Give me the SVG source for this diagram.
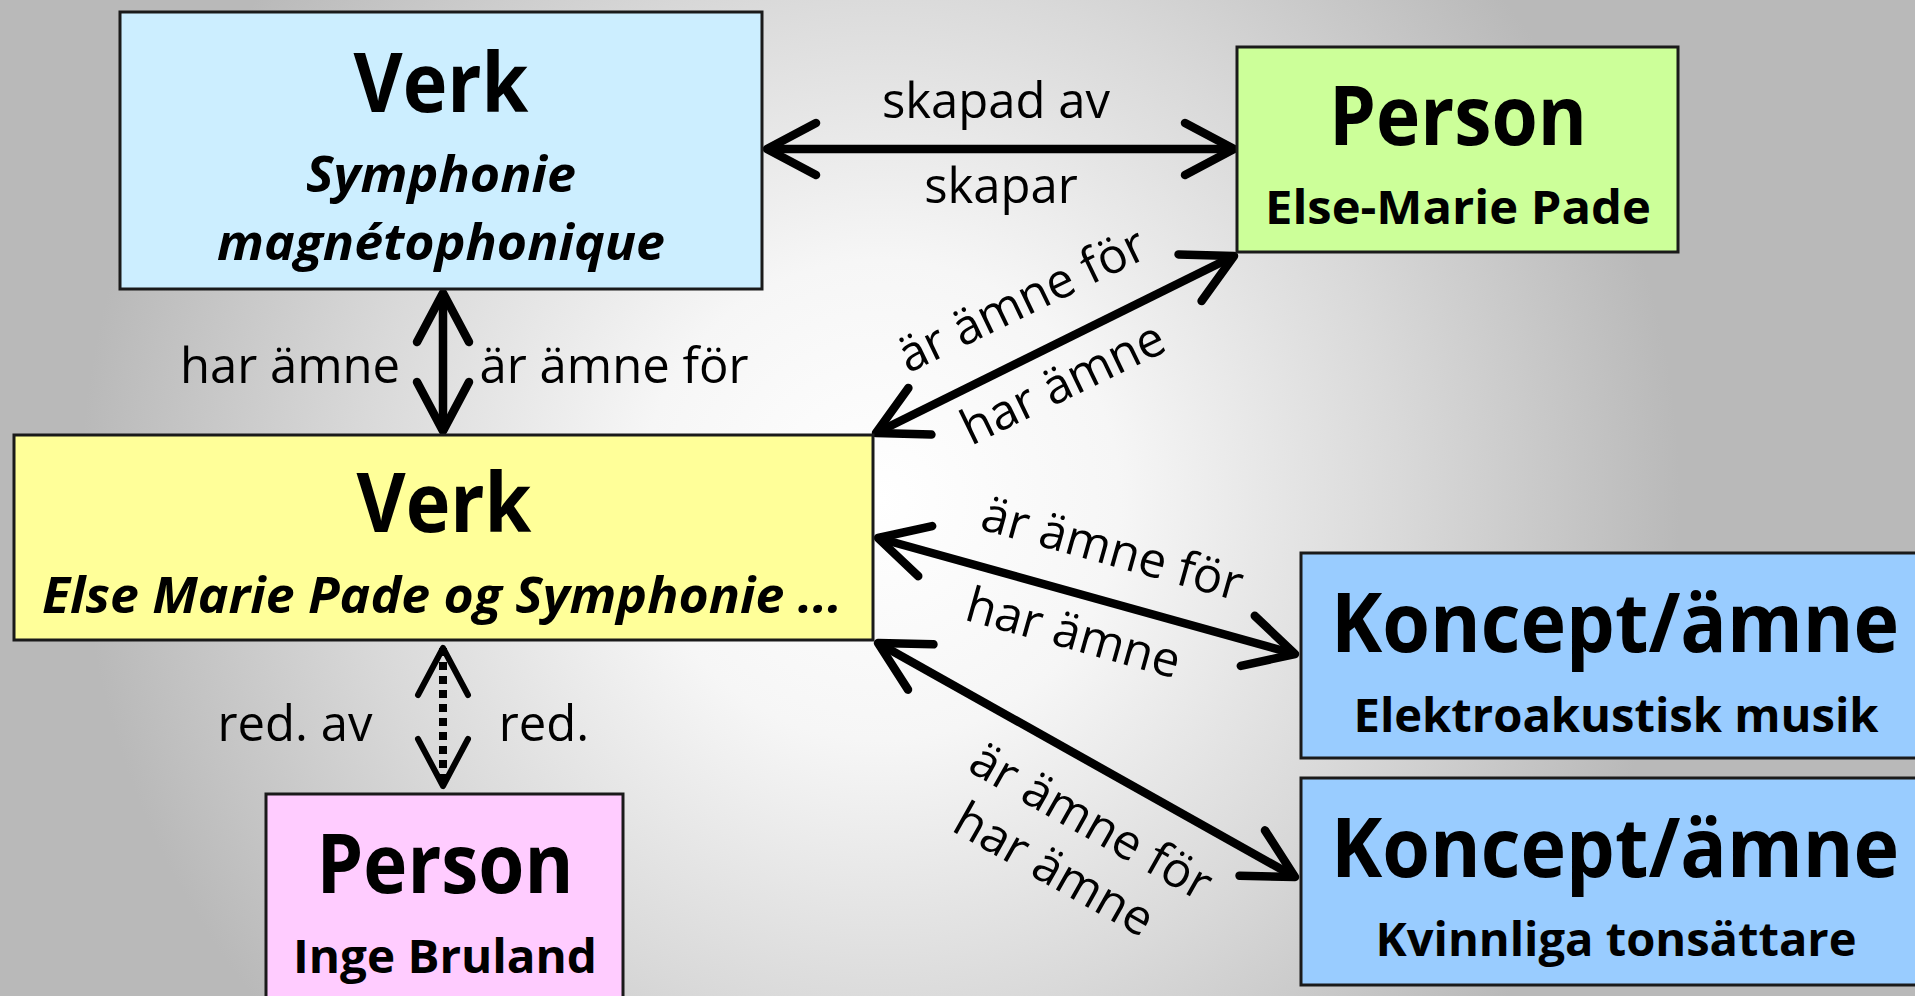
<svg xmlns="http://www.w3.org/2000/svg" width="1915" height="996" viewBox="0 0 1915 996">
<defs>
<radialGradient id="bg" gradientUnits="userSpaceOnUse" cx="880" cy="500" r="800">
<stop offset="0" stop-color="#ffffff"/>
<stop offset="0.3" stop-color="#f6f6f6"/>
<stop offset="0.65" stop-color="#d9d9d9"/>
<stop offset="1" stop-color="#b9b9b9"/>
</radialGradient>
<marker id="ah" markerUnits="userSpaceOnUse" markerWidth="120" markerHeight="120" viewBox="-60 -60 120 120" refX="0" refY="0" orient="auto-start-reverse" overflow="visible">
<path d="M -49 -26 L 0 0 L -49 26" fill="none" stroke="#000" stroke-width="8.5" stroke-linecap="round" stroke-linejoin="round"/>
</marker>
<marker id="ahd" markerUnits="userSpaceOnUse" markerWidth="120" markerHeight="120" viewBox="-60 -60 120 120" refX="0" refY="0" orient="auto-start-reverse" overflow="visible">
<path d="M -47 -25 L 0 0 L -47 25" fill="none" stroke="#000" stroke-width="6" stroke-linecap="round" stroke-linejoin="round"/>
</marker>
</defs>
<style>
.box{stroke:#1a1a1a;stroke-width:3}
.t{font-family:"Open Sans","Liberation Sans",sans-serif;font-weight:700;font-size:82px;text-anchor:middle;fill:#000}
.s{font-family:"Open Sans","Liberation Sans",sans-serif;font-weight:700;font-size:46px;text-anchor:middle;fill:#000}
.si{font-family:"Open Sans","Liberation Sans",sans-serif;font-weight:700;font-style:italic;font-size:50px;text-anchor:middle;fill:#000}
.lbl{font-family:"Open Sans","Liberation Sans",sans-serif;font-size:49px;text-anchor:middle;fill:#000}
.c{fill:none;stroke:#000;stroke-width:8.5;marker-start:url(#ah);marker-end:url(#ah)}
.d{fill:none;stroke:#000;stroke-width:8;stroke-dasharray:8 6;marker-start:url(#ahd);marker-end:url(#ahd)}
</style>
<rect x="0" y="0" width="1915" height="996" fill="url(#bg)"/>

<g id="connectors">
<path class="c" d="M 767 149 L 1234 149"/>
<path class="c" d="M 443 293 L 443 431"/>
<path class="c" d="M 876 433 L 1234 256"/>
<path class="c" d="M 878 538 L 1295 654"/>
<path class="c" d="M 878 643 L 1295 877"/>
<path class="d" d="M 443 648 L 443 786"/>
</g>

<g id="labels">
<text class="lbl" x="996" y="118">skapad av</text>
<text class="lbl" x="1001" y="203">skapar</text>
<text class="lbl" x="290" y="383">har ämne</text>
<text class="lbl" x="614" y="383">är ämne för</text>
<text class="lbl" x="295" y="741">red. av</text>
<text class="lbl" x="544" y="741">red.</text>
<text class="lbl" transform="translate(1029 315) rotate(-25.9)">är ämne för</text>
<text class="lbl" transform="translate(1070 398) rotate(-25.9)">har ämne</text>
<text class="lbl" transform="translate(1108 565) rotate(15.6)">är ämne för</text>
<text class="lbl" transform="translate(1069 649) rotate(15.6)">har ämne</text>
<text class="lbl" transform="translate(1083 836) rotate(29.4)">är ämne för</text>
<text class="lbl" transform="translate(1046 884) rotate(29.4)">har ämne</text>
</g>

<g id="verk1">
<rect class="box" x="120" y="12" width="642" height="277" fill="#cceeff"/>
<text class="t" x="441" y="112" textLength="175" lengthAdjust="spacingAndGlyphs">Verk</text>
<text class="si" x="441" y="192" textLength="270" lengthAdjust="spacingAndGlyphs">Symphonie</text>
<text class="si" x="441" y="260" textLength="448" lengthAdjust="spacingAndGlyphs">magnétophonique</text>
</g>

<g id="person1">
<rect class="box" x="1237" y="47" width="441" height="205" fill="#ccff99"/>
<text class="t" x="1458" y="145" textLength="258" lengthAdjust="spacingAndGlyphs">Person</text>
<text class="s" x="1458" y="224" textLength="386" lengthAdjust="spacingAndGlyphs">Else-Marie Pade</text>
</g>

<g id="verk2">
<rect class="box" x="14" y="435" width="859" height="205" fill="#ffff99"/>
<text class="t" x="444" y="532" textLength="175" lengthAdjust="spacingAndGlyphs">Verk</text>
<text class="si" x="442" y="613" textLength="800" lengthAdjust="spacingAndGlyphs">Else Marie Pade og Symphonie ...</text>
</g>

<g id="person2">
<rect class="box" x="266" y="794" width="357" height="210" fill="#ffccff"/>
<text class="t" x="445" y="893" textLength="257" lengthAdjust="spacingAndGlyphs">Person</text>
<text class="s" x="445" y="973" textLength="304" lengthAdjust="spacingAndGlyphs">Inge Bruland</text>
</g>

<g id="koncept1">
<rect class="box" x="1301" y="553" width="630" height="205" fill="#99ccff"/>
<text class="t" x="1615" y="652" textLength="568" lengthAdjust="spacingAndGlyphs">Koncept/ämne</text>
<text class="s" x="1616" y="732" textLength="525" lengthAdjust="spacingAndGlyphs">Elektroakustisk musik</text>
</g>

<g id="koncept2">
<rect class="box" x="1301" y="778" width="630" height="207" fill="#99ccff"/>
<text class="t" x="1615" y="877" textLength="568" lengthAdjust="spacingAndGlyphs">Koncept/ämne</text>
<text class="s" x="1616" y="956" textLength="481" lengthAdjust="spacingAndGlyphs">Kvinnliga tonsättare</text>
</g>
</svg>
